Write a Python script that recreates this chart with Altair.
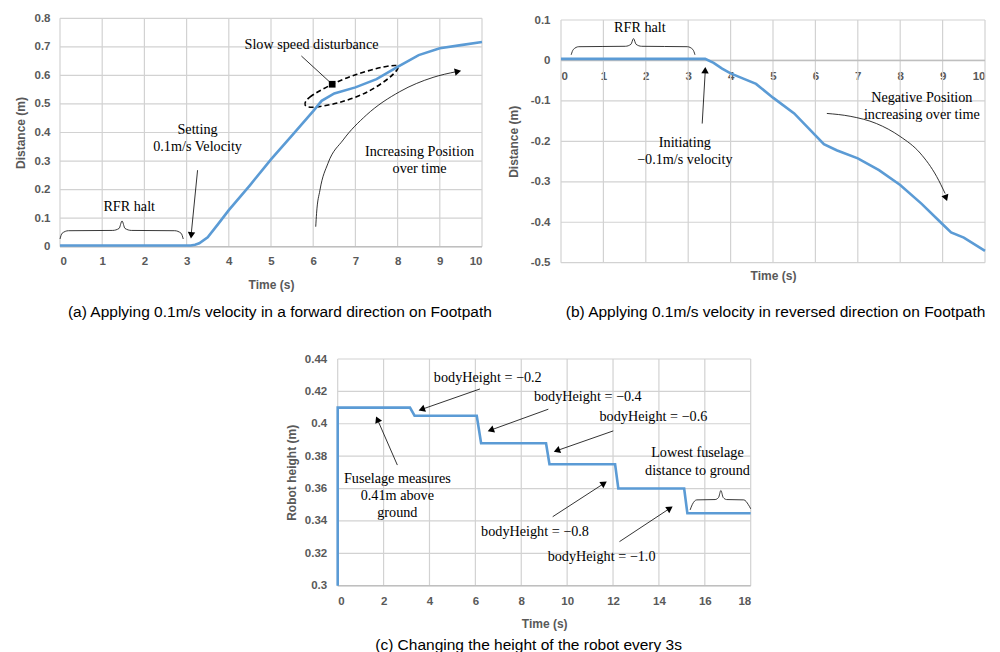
import altair as alt
import pandas as pd

# ================= data =================
# (a) forward
A_TIME = [0, 1, 2, 3, 3.1, 3.2, 3.3, 3.5, 3.75, 4, 4.5, 5, 5.5, 6, 6.2, 6.5, 7, 7.5, 8, 8.5, 9, 9.5, 10]
A_DIST = [0.004, 0.004, 0.004, 0.004, 0.004, 0.007, 0.012, 0.033, 0.08, 0.128, 0.215, 0.306, 0.39, 0.475,
          0.511, 0.537, 0.558, 0.587, 0.630, 0.671, 0.695, 0.706, 0.717]
A_XTICKS = [0, 1, 2, 3, 4, 5, 6, 7, 8, 9, 10]
A_YTICKS = [0, 0.1, 0.2, 0.3, 0.4, 0.5, 0.6, 0.7, 0.8]
A_TEXT = ["Slow speed disturbance", "Setting", "0.1m/s Velocity", "RFR halt", "Increasing Position", "over time"]
A_TEXT_T = [5.96, 3.26, 3.26, 1.64, 8.52, 8.52]
A_TEXT_D = [0.706, 0.409, 0.350, 0.138, 0.330, 0.271]
A_SEG_T1 = [3.26, 5.72]
A_SEG_D1 = [0.268, 0.668]
A_SEG_T2 = [3.11, 6.45]
A_SEG_D2 = [0.045, 0.569]
A_HEAD_T = [3.11, 9.43]
A_HEAD_D = [0.040, 0.614]
A_HEAD_ANG = [185, 78]
A_SQUARE_T = [6.45]
A_SQUARE_D = [0.569]
A_CURVE_T = [6.06, 6.08, 6.16, 6.35, 6.71, 7.26, 8.05, 8.84, 9.39]
A_CURVE_D = [0.070, 0.117, 0.198, 0.292, 0.374, 0.461, 0.543, 0.593, 0.613]
A_ELLIPSE_T = [5.81, 5.92, 6.45, 7.04, 7.65, 8.01, 7.82, 7.27, 6.64, 6.04]
A_ELLIPSE_D = [0.496, 0.524, 0.569, 0.604, 0.629, 0.632, 0.594, 0.541, 0.506, 0.489]
A_BRACE_T = [0.00, 0.05, 0.20, 1.25, 1.40, 1.47, 1.54, 1.69, 2.72, 2.87, 2.92]
A_BRACE_D = [0.027, 0.047, 0.056, 0.057, 0.064, 0.090, 0.064, 0.057, 0.056, 0.047, 0.027]
A_CAPTION = ["(a) Applying 0.1m/s velocity in a forward direction on Footpath"]
A_CAPTION_T = [5.21]
A_CAPTION_D = [-0.227]

# (b) reversed
B_TIME = [0, 1, 2, 3, 3.4, 3.6, 3.8, 4, 4.3, 4.6, 5, 5.5, 6, 6.2, 6.5, 7, 7.5, 8, 8.5, 9, 9.2, 9.5, 10]
B_DIST = [0.004, 0.004, 0.004, 0.004, 0.004, -0.006, -0.02, -0.032, -0.045, -0.058, -0.092, -0.131, -0.185,
          -0.207, -0.222, -0.242, -0.271, -0.308, -0.354, -0.405, -0.425, -0.438, -0.471]
B_XTICKS = [0, 1, 2, 3, 4, 5, 6, 7, 8, 9, 10]
B_YTICKS = [-0.5, -0.4, -0.3, -0.2, -0.1, 0, 0.1]
B_TEXT = ["RFR halt", "Initiating", "\u22120.1m/s velocity", "Negative Position", "increasing over time"]
B_TEXT_T = [1.86, 2.92, 2.92, 8.51, 8.51]
B_TEXT_D = [0.081, -0.205, -0.246, -0.094, -0.135]
B_SEG_T1 = [3.33]
B_SEG_D1 = [-0.156]
B_SEG_T2 = [3.40]
B_SEG_D2 = [-0.03]
B_HEAD_T = [3.40, 9.08]
B_HEAD_D = [-0.024, -0.340]
B_HEAD_ANG = [3, 160]
B_CURVE_T = [6.27, 6.82, 7.44, 8.0, 8.47, 8.86, 9.06]
B_CURVE_D = [-0.131, -0.138, -0.156, -0.188, -0.229, -0.287, -0.329]
B_BRACE_T = [0.24, 0.29, 0.42, 1.52, 1.65, 1.71, 1.77, 1.90, 2.98, 3.11, 3.16]
B_BRACE_D = [0.014, 0.027, 0.034, 0.035, 0.040, 0.054, 0.040, 0.035, 0.034, 0.027, 0.014]
B_CAPTION = ["(b) Applying 0.1m/s velocity in reversed direction on Footpath"]
B_CAPTION_T = [5.06]
B_CAPTION_D = [-0.621]

# (c) height
C_TIME = [0, 0, 3.15, 3.35, 6.06, 6.25, 9.08, 9.23, 12.09, 12.23, 15.1, 15.24, 18]
C_HEIGHT = [0.30, 0.41, 0.41, 0.405, 0.405, 0.388, 0.388, 0.375, 0.375, 0.36, 0.36, 0.3447, 0.3447]
C_XTICKS = [0, 2, 4, 6, 8, 10, 12, 14, 16, 18]
C_YTICKS = [0.3, 0.32, 0.34, 0.36, 0.38, 0.4, 0.42, 0.44]
C_TEXT = ["bodyHeight = \u22120.2", "bodyHeight = \u22120.4", "bodyHeight = \u22120.6", "Lowest fuselage",
          "distance to ground", "Fuselage measures", "0.41m above", "ground", "bodyHeight = \u22120.8",
          "bodyHeight = \u22121.0"]
C_TEXT_T = [6.54, 10.9, 13.76, 15.68, 15.68, 2.6, 2.6, 2.6, 8.6, 11.5]
C_TEXT_H = [0.428, 0.4163, 0.404, 0.3817, 0.371, 0.3657, 0.3554, 0.3447, 0.333, 0.3175]
C_SEG_T1 = [6.20, 9.18, 12.01, 2.6, 9.37, 12.28]
C_SEG_H1 = [0.4215, 0.409, 0.3956, 0.3745, 0.3426, 0.3272]
C_SEG_T2 = [3.66, 6.67, 9.55, 1.73, 11.61, 14.48]
C_SEG_H2 = [0.4089, 0.3961, 0.3834, 0.4027, 0.3632, 0.3478]
C_HEAD_ANG = [250, 250, 250, 336, 57, 57]
C_BRACE_T = [15.36, 15.45, 15.65, 16.45, 16.6, 16.7, 16.8, 16.95, 17.7, 17.9, 18.0]
C_BRACE_H = [0.3468, 0.350, 0.353, 0.3532, 0.3545, 0.3588, 0.3545, 0.3532, 0.353, 0.350, 0.3475]
C_CAPTION = ["(c) Changing the height of the robot every 3s"]
C_CAPTION_T = [8.32]
C_CAPTION_H = [0.2634]

# ================= styling =================
BLUE = "#5B9BD5"
GRID = "#D2D2D2"
AXISLINE = "#BFBFBF"
LABEL = "#595959"
H = 644  # chart height (page height minus margin)


def make_axis(orient, offset, values, title, pad, title_pos):
    kw = dict(orient=orient, offset=offset, values=values, grid=False, domain=False, ticks=False,
              labelPadding=pad, labelFont="Liberation Sans", labelFontWeight="bold", labelFontSize=11.5,
              labelColor=LABEL, labelExpr="'' + datum.value", title=title, titleFont="Liberation Sans",
              titleFontWeight="bold", titleFontSize=12, titleColor=LABEL, titleBaseline="middle")
    if orient == "bottom":
        kw["titleY"] = title_pos
    else:
        kw["titleX"] = title_pos
    return alt.Axis(**kw)


def panel(sx, sy, axx, axy, xticks, yticks, xdom, ydom, axis_y,
          line_t, line_v, text, text_t, text_v, seg, heads, curves, braces, squares, caption):
    def enc(ax=None, ay=None):
        return dict(x=alt.X("x:Q", scale=sx, axis=ax), y=alt.Y("y:Q", scale=sy, axis=ay))

    layers = []
    vg = pd.DataFrame({"x": xticks, "y": [ydom[0]] * len(xticks), "y2": [ydom[1]] * len(xticks)})
    layers.append(alt.Chart(vg).mark_rule(color=GRID, strokeWidth=1.2).encode(
        **enc(axx, axy), y2="y2:Q"))
    hg = pd.DataFrame({"y": yticks, "x": [xdom[0]] * len(yticks), "x2": [xdom[1]] * len(yticks)})
    layers.append(alt.Chart(hg).mark_rule(color=GRID, strokeWidth=1.2).encode(**enc(), x2="x2:Q"))
    al = pd.DataFrame({"y": [axis_y], "x": [xdom[0]], "x2": [xdom[1]]})
    layers.append(alt.Chart(al).mark_rule(color=AXISLINE, strokeWidth=1.6).encode(**enc(), x2="x2:Q"))

    for bt, bv in braces:
        bd = pd.DataFrame({"x": bt, "y": bv, "i": list(range(len(bt)))})
        layers.append(alt.Chart(bd).mark_line(color="#222222", strokeWidth=0.9, interpolate="monotone")
                      .encode(**enc(), order="i:Q"))

    for ct, cv, dash, interp, width in curves:
        cd = pd.DataFrame({"x": ct, "y": cv, "i": list(range(len(ct)))})
        kw = dict(color="black", strokeWidth=width, interpolate=interp)
        if dash:
            kw["strokeDash"] = dash
        layers.append(alt.Chart(cd).mark_line(**kw).encode(**enc(), order="i:Q"))

    if seg is not None:
        sd = pd.DataFrame({"x": seg[0], "y": seg[1], "x2": seg[2], "y2": seg[3]})
        layers.append(alt.Chart(sd).mark_rule(color="black", strokeWidth=0.8)
                      .encode(**enc(), x2="x2:Q", y2="y2:Q"))

    ld = pd.DataFrame({"x": line_t, "y": line_v, "i": list(range(len(line_t)))})
    layers.append(alt.Chart(ld).mark_line(color=BLUE, strokeWidth=2.6)
                  .encode(**enc(), order="i:Q"))

    if squares is not None:
        qd = pd.DataFrame({"x": squares[0], "y": squares[1]})
        layers.append(alt.Chart(qd).mark_square(color="black", size=45, opacity=1).encode(**enc()))

    hd = pd.DataFrame({"x": heads[0], "y": heads[1], "a": heads[2]})
    layers.append(alt.Chart(hd).mark_point(shape="triangle-up", filled=True, color="black",
                                           size=55, opacity=1)
                  .encode(**enc(), angle=alt.Angle("a:Q", scale=None)))

    td = pd.DataFrame({"x": text_t, "y": text_v, "t": text})
    layers.append(alt.Chart(td).mark_text(font="Liberation Serif", fontSize=14.2, color="black",
                                          align="center", baseline="middle")
                  .encode(**enc(), text="t:N"))

    cd = pd.DataFrame({"x": caption[1], "y": caption[2], "t": caption[0]})
    layers.append(alt.Chart(cd).mark_text(font="Liberation Sans", fontSize=15.5, color="black",
                                          align="center", baseline="middle")
                  .encode(**enc(), text="t:N"))
    return layers


# ---- panel (a) ----
sxa = alt.Scale(domain=[0, 10], range=[52, 474], nice=False, zero=False)
sya = alt.Scale(domain=[0, 0.8], range=[238.7, 10.3], nice=False, zero=False)
pa = panel(
    sxa, sya,
    make_axis("bottom", 238.7 - H, A_XTICKS, "Time (s)", 9, 37.3),
    make_axis("left", -52, A_YTICKS, "Distance (m)", 10, -40),
    A_XTICKS, A_YTICKS, [0, 10], [0, 0.8], 0,
    A_TIME, A_DIST, A_TEXT, A_TEXT_T, A_TEXT_D,
    (A_SEG_T1, A_SEG_D1, A_SEG_T2, A_SEG_D2),
    (A_HEAD_T, A_HEAD_D, A_HEAD_ANG),
    [(A_CURVE_T, A_CURVE_D, None, "monotone", 0.8),
     (A_ELLIPSE_T, A_ELLIPSE_D, [5, 3], "cardinal-closed", 1.6)],
    [(A_BRACE_T, A_BRACE_D)],
    (A_SQUARE_T, A_SQUARE_D),
    (A_CAPTION, A_CAPTION_T, A_CAPTION_D),
)

# ---- panel (b) ----
sxb = alt.Scale(domain=[0, 10], range=[553, 977], nice=False, zero=False)
syb = alt.Scale(domain=[-0.5, 0.1], range=[254.7, 12], nice=False, zero=False)
pb = panel(
    sxb, syb,
    make_axis("bottom", 52.5 - H, B_XTICKS, "Time (s)", 10, 214.5),
    make_axis("left", -553, B_YTICKS, "Distance (m)", 11, -48),
    B_XTICKS, B_YTICKS, [0, 10], [-0.5, 0.1], 0,
    B_TIME, B_DIST, B_TEXT, B_TEXT_T, B_TEXT_D,
    (B_SEG_T1, B_SEG_D1, B_SEG_T2, B_SEG_D2),
    (B_HEAD_T, B_HEAD_D, B_HEAD_ANG),
    [(B_CURVE_T, B_CURVE_D, None, "monotone", 0.8)],
    [(B_BRACE_T, B_BRACE_D)],
    None,
    (B_CAPTION, B_CAPTION_T, B_CAPTION_D),
)

# ---- panel (c) ----
sxc = alt.Scale(domain=[0, 18], range=[329.7, 742.7], nice=False, zero=False)
syc = alt.Scale(domain=[0.3, 0.44], range=[577.7, 351], nice=False, zero=False)
pc = panel(
    sxc, syc,
    make_axis("bottom", 577.7 - H, C_XTICKS, "Time (s)", 10, 37.3),
    make_axis("left", -329.7, C_YTICKS, "Robot height (m)", 11, -46.7),
    C_XTICKS, C_YTICKS, [0, 18], [0.3, 0.44], 0.3,
    C_TIME, C_HEIGHT, C_TEXT, C_TEXT_T, C_TEXT_H,
    (C_SEG_T1, C_SEG_H1, C_SEG_T2, C_SEG_H2),
    (C_SEG_T2, C_SEG_H2, C_HEAD_ANG),
    [],
    [(C_BRACE_T, C_BRACE_H)],
    None,
    (C_CAPTION, C_CAPTION_T, C_CAPTION_H),
)

chart = (
    alt.layer(*(pa + pb + pc))
    .resolve_scale(x="independent", y="independent")
    .resolve_axis(x="independent", y="independent")
    .properties(width=984, height=H, padding=0, autosize=alt.AutoSizeParams(type="none"),
                background="white")
    .configure_view(stroke=None)
)

chart.save("out.html", embed_options={"renderer": "svg", "actions": False})
